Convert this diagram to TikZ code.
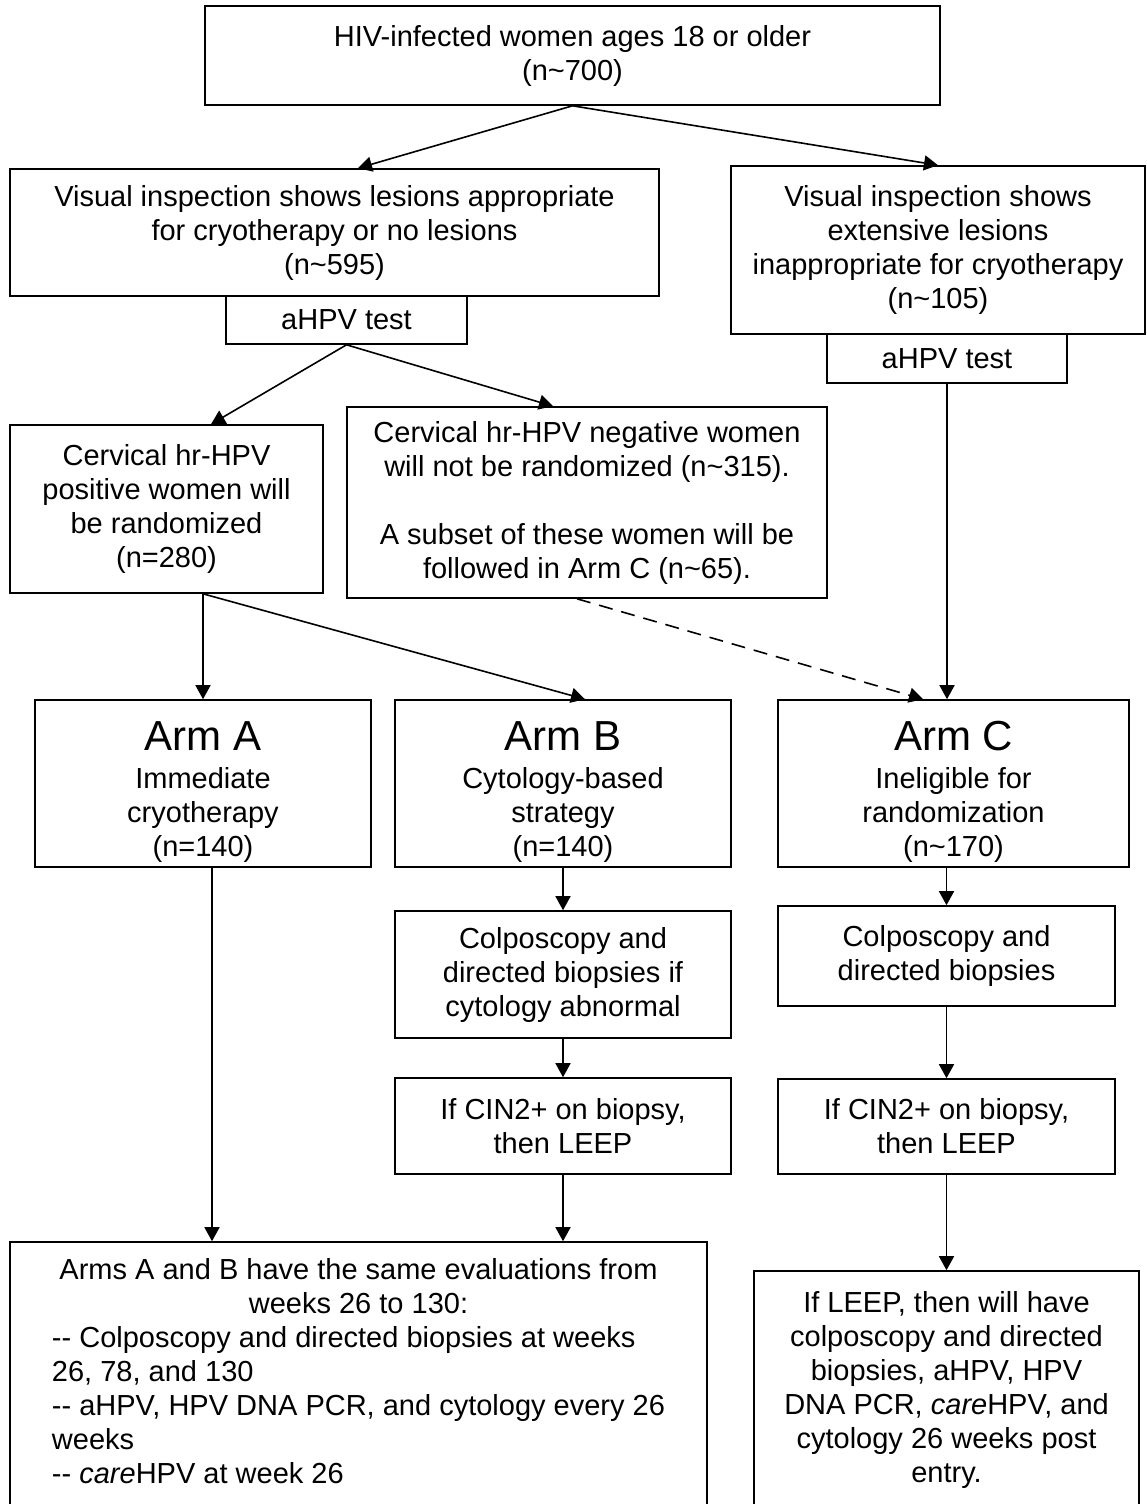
\documentclass[tikz,border=0pt]{standalone}
\usepackage{fontspec}
\setmainfont{Liberation Sans}
\usetikzlibrary{arrows.meta, positioning, calc}
\newcommand{\apx}{\textasciitilde}
\newcommand{\armfont}{\fontsize{42}{48}\selectfont}
\newcommand{\armline}[1]{\rule{0pt}{46pt}{\armfont #1}}

\begin{document}
\begin{tikzpicture}[
        x=1pt, y=-1pt,
        box/.style={draw, line width=1.6pt, align=center, inner sep=0pt, font=\fontsize{29}{34}\selectfont},
        link/.style={-{Triangle[length=14pt,width=15pt]}, line width=1.6pt},
        optlink/.style={link, dash pattern=on 14pt off 9pt}
    ]
        \useasboundingbox (0,0) rectangle (1146,1504);

        \node[box, minimum width=735pt, minimum height=99pt] (hiv) at (572.5,55.5) {HIV-infected women ages 18 or older\\(n\apx700)};

        \node[box, minimum width=649pt, minimum height=127pt] (vis1) at (334.5,232.5) {Visual inspection shows lesions appropriate\\for cryotherapy or no lesions\\(n\apx595)};
        \node[box, minimum width=241pt, minimum height=48pt] (ahpv1) at (346.5,320) {aHPV test};
        \node[box, minimum width=414pt, minimum height=168pt] (vis2) at (938,250) {Visual inspection shows\\extensive lesions\\inappropriate for cryotherapy\\(n\apx105)};
        \node[box, minimum width=240pt, minimum height=49pt] (ahpv2) at (947,358.5) {aHPV test};
        \draw[link] (hiv.south) -- ([xshift=23.5pt]vis1.north);
        \draw[link] (hiv.south) -- (vis2.north);

        \node[box, minimum width=313pt, minimum height=168pt] (pos) at (166.5,509) {Cervical hr-HPV\\positive women will\\be randomized\\(n=280)};
        \node[box, minimum width=480pt, minimum height=191pt] (neg) at (587,502.5) {Cervical hr-HPV negative women\\will not be randomized (n\apx315).\\[34pt]A subset of these women will be\\followed in Arm C (n\apx65).};
        \draw[link] (ahpv1.south) -- ([xshift=44.5pt]pos.north);
        \draw[link] (ahpv1.south) -- ([xshift=-34pt]neg.north);

        \node[box, minimum width=336pt, minimum height=167pt] (armA) at (203,783.5) {\armline{Arm A}\\[4pt]Immediate\\cryotherapy\\(n=140)};
        \node[box, minimum width=336pt, minimum height=167pt] (armB) at (563,783.5) {\armline{Arm B}\\[4pt]Cytology-based\\strategy\\(n=140)};
        \node[box, minimum width=351pt, minimum height=167pt] (armC) at (953.5,783.5) {\armline{Arm C}\\[4pt]Ineligible for\\randomization\\(n\apx170)};
        \draw[link] (armA.north |- pos.south) -- (armA.north);
        \draw[link] (armA.north |- pos.south) -- ([xshift=22pt]armB.north);
        \draw[optlink] ([xshift=-10pt]neg.south) -- ([xshift=-30.5pt]armC.north);
        \draw[link] (ahpv2.south) -- (ahpv2.south |- armC.north);

        \node[box, minimum width=336pt, minimum height=127pt] (colpB) at (563,974.5) {Colposcopy and\\directed biopsies if\\cytology abnormal};
        \node[box, minimum width=336pt, minimum height=96pt] (leepB) at (563,1126) {If CIN2+ on biopsy,\\then LEEP};
        \node[box, minimum width=337pt, minimum height=100pt] (colpC) at (946.5,956) {Colposcopy and\\directed biopsies};
        \node[box, minimum width=337pt, minimum height=95pt] (leepC) at (946.5,1126.5) {If CIN2+ on biopsy,\\then LEEP};
        \draw[link] (armB.south) -- (colpB.north);
        \draw[link] (colpB.south) -- (leepB.north);
        \draw[link] (colpC.north |- armC.south) -- (colpC.north);
        \draw[link] (colpC.south) -- (leepC.north);

        \node[box, minimum width=697pt, minimum height=266pt] (evalAB) at (358.5,1375) {\begin{tabular}{@{}l@{}}
            \multicolumn{1}{@{}c@{}}{Arms A and B have the same evaluations from}\\
            \multicolumn{1}{@{}c@{}}{weeks 26 to 130:}\\
            -{}- Colposcopy and directed biopsies at weeks\\
            26, 78, and 130\\
            -{}- aHPV, HPV DNA PCR, and cytology every 26\\
            weeks\\
            -{}- \textit{care}HPV at week 26
        \end{tabular}};
        \node[box, minimum width=385pt, minimum height=237pt] (evalC) at (946.5,1389.5) {If LEEP, then will have\\colposcopy and directed\\biopsies, aHPV, HPV\\DNA PCR, \textit{care}HPV, and\\cytology 26 weeks post\\entry.};
        \draw[link] ([xshift=9pt]armA.south) -- ([xshift=9pt]armA.south |- evalAB.north);
        \draw[link] (leepB.south) -- (leepB.south |- evalAB.north);
        \draw[link] (leepC.south) -- (evalC.north);
    \end{tikzpicture}
\end{document}
